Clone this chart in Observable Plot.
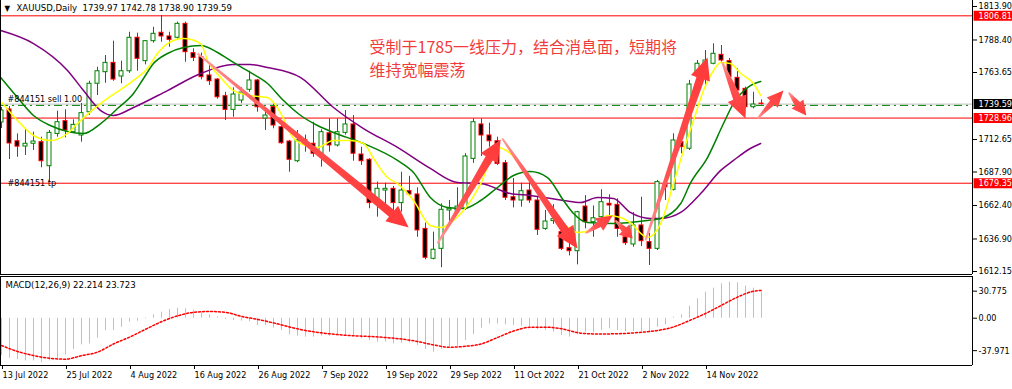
<!DOCTYPE html>
<html><head><meta charset="utf-8">
<script src="https://cdn.jsdelivr.net/npm/d3@7"></script>
<script src="https://cdn.jsdelivr.net/npm/@observablehq/plot@0.6"></script>
<style>
html,body{margin:0;padding:0;background:#fff;}
#chart{width:1012px;height:389px;overflow:hidden;position:relative;}
#chart svg{display:block;}
</style></head><body><div id="chart"></div>
<script>
// ---------- data ----------
const headerTitle = "XAUUSD,Daily";
const headerValues = ["1739.97", "1742.78", "1738.90", "1739.59"];
const opens = [1725.6,1735.5,1711.3,1707.3,1709.4,1710.6,1692.3,1716.9,1726.6,1718.2,1715.7,1733.4,1755.1,1763.9,1771.0,1760.6,1764.6,1790.1,1772.3,1787.5,1793.9,1791.1,1790.1,1800.7,1778.4,1775.3,1761.4,1758.3,1745.6,1735.2,1742.3,1750.5,1757.6,1728.6,1737.3,1722.0,1711.1,1696.1,1712.0,1709.4,1701.8,1717.4,1708.1,1717.7,1724.1,1701.2,1697.2,1664.9,1673.8,1675.1,1664.2,1673.3,1670.8,1644.6,1621.8,1629.4,1658.6,1658.6,1659.9,1697.9,1724.1,1715.7,1711.3,1694.6,1668.7,1666.2,1673.8,1666.2,1644.6,1650.5,1642.1,1629.9,1627.6,1661.6,1649.7,1653.5,1663.7,1662.9,1638.2,1632.7,1647.2,1634.5,1629.4,1678.2,1674.3,1710.6,1705.6,1761.4,1762.9,1770.3,1777.1,1772.3,1759.6,1751.2,1737.2,1739.97];
const highs = [1737.0,1737.8,1716.9,1720.3,1718.2,1714.4,1719.5,1734.2,1735.2,1727.6,1740.1,1757.0,1767.7,1776.6,1787.5,1772.3,1794.3,1793.6,1788.0,1798.1,1807.1,1794.3,1802.0,1802.0,1781.7,1778.4,1769.0,1759.0,1748.6,1752.0,1752.0,1764.6,1758.3,1737.0,1739.8,1726.0,1712.0,1719.5,1716.0,1725.8,1720.0,1728.4,1728.4,1734.7,1730.9,1706.8,1698.0,1680.2,1679.4,1676.9,1687.7,1684.6,1675.9,1649.0,1642.1,1663.6,1666.2,1675.9,1701.8,1728.4,1728.4,1725.1,1714.4,1696.7,1682.9,1679.4,1681.5,1668.7,1658.6,1663.0,1647.2,1638.6,1658.0,1669.9,1662.0,1674.4,1670.5,1667.5,1642.1,1657.0,1668.7,1641.3,1681.5,1684.1,1717.0,1711.9,1757.6,1772.8,1780.4,1785.5,1784.2,1774.3,1766.5,1752.5,1748.6,1742.78];
const lows = [1721.0,1697.4,1699.1,1700.5,1704.3,1691.1,1680.0,1714.4,1713.9,1717.5,1710.6,1731.0,1746.1,1755.5,1757.0,1755.1,1763.0,1764.6,1769.5,1786.0,1786.7,1782.9,1789.0,1771.5,1772.0,1758.1,1753.8,1743.3,1727.1,1729.6,1740.0,1748.6,1733.4,1719.5,1720.8,1709.0,1687.7,1695.0,1703.0,1699.1,1691.6,1703.0,1707.0,1716.0,1696.1,1692.9,1659.9,1653.5,1661.1,1657.3,1657.3,1669.3,1638.2,1621.0,1621.0,1615.0,1648.4,1657.5,1658.6,1694.5,1699.7,1706.8,1692.9,1666.2,1660.6,1661.1,1664.0,1639.6,1643.5,1648.0,1628.1,1624.0,1617.2,1644.6,1638.2,1652.0,1652.3,1638.2,1631.9,1630.6,1631.2,1616.7,1628.1,1666.2,1673.5,1701.8,1704.3,1752.5,1753.0,1769.5,1771.5,1758.0,1746.1,1736.0,1736.0,1738.90];
const closes = [1734.7,1709.6,1707.2,1709.4,1711.1,1696.1,1717.7,1725.8,1719.5,1723.8,1732.7,1755.1,1764.6,1771.0,1758.3,1764.6,1790.1,1774.1,1787.5,1793.1,1791.1,1788.5,1800.7,1779.1,1774.8,1760.1,1757.0,1744.8,1735.2,1746.9,1748.4,1757.6,1737.2,1730.9,1723.3,1709.8,1697.2,1711.9,1709.0,1701.8,1718.2,1708.1,1718.2,1724.1,1701.8,1696.1,1664.2,1675.1,1675.1,1664.2,1673.8,1670.8,1643.4,1622.6,1628.7,1659.1,1659.9,1661.6,1699.7,1725.8,1715.7,1711.3,1694.1,1668.3,1666.2,1673.3,1666.2,1643.9,1650.2,1652.0,1629.4,1627.6,1657.3,1649.7,1652.7,1664.9,1662.4,1644.6,1633.7,1647.2,1635.2,1629.4,1680.2,1676.3,1711.9,1706.8,1754.5,1770.3,1772.8,1777.9,1772.8,1760.1,1749.9,1737.2,1739.3,1739.59];

const dateTickIndex = [0, 8, 16, 24, 32, 40, 48, 56, 64, 72, 80, 88];
const dateTickLabels = ["13 Jul 2022","25 Jul 2022","4 Aug 2022","16 Aug 2022","26 Aug 2022","7 Sep 2022","19 Sep 2022","29 Sep 2022","11 Oct 2022","21 Oct 2022","2 Nov 2022","14 Nov 2022"];
const priceTicks = [1813.90, 1788.40, 1763.65, 1712.65, 1687.90, 1662.40, 1636.90, 1612.15];
const levelLines = [1806.81, 1728.96, 1679.35];
const bidPrice = 1739.59;
const orderPrice = 1738.6;
const orderLabel = "#844151 sell 1.00";
const tpLabel = "#844151 tp";
const noteText = "受制于1785一线压力，结合消息面，短期将\n维持宽幅震荡";

// moving averages: [bar index, price]
const maFast = [[0.1,1740.5],[2,1727.1],[4,1715.7],[6.1,1711.9],[8.25,1717.2],[9.5,1724.8],[12.4,1740.1],[16.5,1757.6],[18.25,1766.7],[19.5,1778.1],[20.75,1785.7],[22.75,1789.5],[24.9,1785.7],[25.75,1772.8],[27.4,1759.8],[29,1749.9],[31.1,1746.1],[33.25,1744.6],[34,1740.8],[35.25,1728.6],[36.1,1717.2],[37.4,1709.6],[39.5,1706.6],[41.5,1711.9],[43.6,1711.9],[45.25,1709.6],[46.5,1698.2],[48.25,1683.7],[49.5,1679.1],[51.5,1666.2],[53.6,1647.2],[54.9,1645.6],[56.5,1651.0],[57.75,1658.6],[59.9,1679.1],[62,1706.6],[63.6,1702.0],[65.25,1689.1],[67,1673.8],[68.6,1660.9],[70.25,1648.7],[72,1641.8],[73.6,1643.4],[75.75,1654.8],[77.4,1653.3],[78.6,1649.4],[80.75,1638.0],[82.4,1648.7],[84,1679.1],[85.25,1704.3],[86.5,1727.1],[87.75,1749.9],[89,1765.2],[89.9,1771.3],[91.1,1770.5],[92.4,1762.9],[94,1755.3],[94.9,1746.1]];
const maMid = [[-0.1,1759.8],[2,1744.6],[4,1730.9],[6.1,1723.3],[8.25,1718.7],[10.25,1717.2],[12.4,1724.8],[14.5,1736.2],[16.5,1747.7],[17.75,1759.1],[19,1770.5],[20.75,1778.1],[22.75,1782.7],[24.9,1784.2],[27,1778.9],[29,1771.3],[31.1,1763.7],[33.25,1755.3],[35.25,1742.3],[37.4,1730.9],[39.5,1723.3],[41.5,1718.0],[45.25,1709.6],[49.5,1696.7],[51.5,1687.5],[53.6,1668.5],[55.75,1660.9],[57.75,1660.1],[59.9,1666.2],[62,1676.1],[64,1685.2],[66.1,1688.3],[68.25,1683.7],[70.25,1666.2],[71.5,1656.3],[73.25,1649.4],[76.5,1648.7],[80.75,1651.0],[82.4,1652.5],[84.9,1663.9],[86.1,1679.2],[88.25,1698.9],[90.25,1724.8],[91.5,1740.1],[93.25,1752.2],[94.9,1756.8]];
const maSlow = [[-0.1,1795.6],[4,1785.7],[8.25,1765.2],[10.25,1749.9],[12.4,1734.7],[14,1730.9],[16.5,1737.0],[20.75,1749.9],[24.9,1762.9],[29,1769.7],[31.1,1769.7],[33.25,1767.5],[37.4,1759.8],[41.5,1737.0],[45.25,1721.0],[49.5,1706.6],[53.6,1690.6],[57,1679.9],[59.9,1679.1],[63.6,1671.5],[66.1,1670.0],[70.25,1666.2],[72.4,1664.7],[74.5,1668.5],[76.5,1667.7],[78.6,1657.1],[81.1,1652.5],[82.4,1652.5],[84.9,1657.1],[87.4,1671.5],[89.9,1689.1],[91.5,1696.7],[93.6,1705.8],[94.9,1709.6]];

// MACD(12,26,9)
const macdMain = [-31.9,-34.2,-35.4,-36.5,-36.5,-37.97,-36.5,-34.5,-31.5,-26.8,-22.8,-22.0,-17.1,-10.8,-10.5,-7.7,-3.4,-2.6,-0.6,2.8,5.1,7.4,8.5,8.0,6.8,4.6,2.8,1.0,-1.0,-2.0,-2.5,-3.0,-6.3,-6.3,-8.5,-10.5,-14.2,-15.4,-16.2,-16.2,-15.4,-15.4,-14.8,-14.8,-15.6,-17.6,-19.1,-20.5,-20.5,-22.0,-21.5,-21.2,-23.3,-26.8,-29.0,-26.8,-24.8,-24.0,-19.1,-14.0,-8.5,-5.0,-5.0,-5.7,-6.3,-6.8,-7.7,-9.7,-10.5,-12.0,-14.8,-16.2,-14.2,-12.0,-12.5,-10.5,-9.1,-10.5,-11.4,-11.4,-11.4,-11.4,-7.7,-5.7,0.9,2.8,10.3,16.5,22.2,25.6,29.3,30.775,30.2,27.4,25.6,22.214];
const macdSignal = [[0,-23.3],[2,-28.4],[4,-31.9],[6,-34.2],[8,-35],[10,-32],[12,-29],[14,-22],[16,-16.2],[18,-9.5],[20,-3],[22,2],[24,5],[26,5.7],[28,5],[30,1.5],[32,-1],[34,-4],[36,-7.5],[38,-10.5],[40,-12.5],[42,-14],[44,-15],[46,-15.6],[48,-16.5],[50,-17.8],[52,-19.9],[54,-22.8],[56,-24.8],[58,-24],[60,-21.9],[62,-16.5],[64,-11],[66,-7.8],[68,-7.7],[70,-9],[72,-12.3],[74,-13.4],[76,-13.4],[78,-13],[80,-12],[82,-10.5],[84,-7.5],[86,-2],[88,4],[90,11],[92,18],[94,23],[95,23.723]];
const macdTitle = "MACD(12,26,9) 22.214 23.723";
const macdAxisTicks = [30.775, 0, -37.971];

// hand-drawn arrows: bar index / price
const bigArrows = [
  {x1:24.5,y1:1778.1,x2:50.9,y2:1645.6},
  {x1:54.5,y1:1633.5,x2:62.4,y2:1712.6},
  {x1:62.6,y1:1713.4,x2:72.0,y2:1629.6},
  {x1:80.5,y1:1635.8,x2:88.25,y2:1775.1},
  {x1:90.1,y1:1771.3,x2:93.0,y2:1728.6}
];
const smallArrows = [
  {x1:73.0,y1:1641.1,x2:76.4,y2:1654.8},
  {x1:76.75,y1:1651.0,x2:78.9,y2:1637.3},
  {x1:94.5,y1:1728.6,x2:97.75,y2:1750.0},
  {x1:98.4,y1:1748.4,x2:100.6,y2:1730.9}
];

// ---------- build ----------
const FONT = "'DejaVu Sans Condensed','Liberation Sans',sans-serif";
const X_DOMAIN = [-0.125, 121.375];
const Y_DOMAIN = [1609.86, 1818.47];
const M_DOMAIN = [-40.4, 35.6];
const GREEN = "#008000", RED = "#ff0000";
const PLOT_W = 972, PLOT_H = 274;
const KX = PLOT_W / (X_DOMAIN[1] - X_DOMAIN[0]);
const KY = PLOT_H / (Y_DOMAIN[1] - Y_DOMAIN[0]);

const candles = closes.map((c, i) => ({i, o: opens[i], h: highs[i], l: lows[i], c, up: c >= opens[i]}));
const priceBoxes = [
  {v: levelLines[0], bg: RED},
  {v: bidPrice, bg: "#000000"},
  {v: levelLines[1], bg: RED},
  {v: levelLines[2], bg: RED}
];

// tapered filled arrow shape for Plot.vector (points up before rotation)
const arrowShape = {
  draw(ctx, l, r) {
    const hl = Math.min(r * 2.2, l * 0.5), s1 = r * 0.42, s0 = r * 0.1;
    ctx.moveTo(-s0, 0);
    ctx.lineTo(-s1, hl - l);
    ctx.lineTo(-r, hl - l);
    ctx.lineTo(0, -l);
    ctx.lineTo(r, hl - l);
    ctx.lineTo(s1, hl - l);
    ctx.lineTo(s0, 0);
    ctx.closePath();
  }
};
const geom = (a) => {
  const dx = (a.x2 - a.x1) * KX, dy = -(a.y2 - a.y1) * KY;
  return {...a, len: Math.hypot(dx, dy), rot: Math.atan2(dx, -dy) * 180 / Math.PI};
};

const main = Plot.plot({
  width: 1012, height: 276,
  marginLeft: 0, marginRight: 40, marginTop: 0, marginBottom: 2,
  x: {domain: X_DOMAIN, axis: null},
  y: {domain: Y_DOMAIN, axis: null},
  length: {type: "linear", domain: [0, 1000], range: [0, 1000]},
  style: {fontFamily: FONT, fontSize: "9px", color: "#000", background: "transparent", overflow: "visible"},
  marks: [
    Plot.ruleY([bidPrice], {stroke: "#c0c0c0"}),
    Plot.ruleY([orderPrice], {stroke: GREEN, strokeDasharray: "8,4,2,4"}),
    Plot.ruleY(levelLines, {stroke: RED}),
    Plot.ruleX(candles, {x: "i", y1: "l", y2: "h", stroke: d => d.up ? GREEN : RED}),
    Plot.rect(candles, {x1: d => d.i - 0.25, x2: d => d.i + 0.25, y1: "o", y2: "c",
      fill: d => d.up ? "#ffffff" : "#000000", stroke: d => d.up ? GREEN : RED}),
    Plot.line(maSlow, {x: d => d[0], y: d => d[1], stroke: "#800080", curve: "monotone-x"}),
    Plot.line(maMid, {x: d => d[0], y: d => d[1], stroke: GREEN, curve: "monotone-x"}),
    Plot.line(maFast, {x: d => d[0], y: d => d[1], stroke: "#ffff00", curve: "monotone-x"}),
    Plot.text([orderLabel], {x: () => X_DOMAIN[0], y: () => orderPrice, dx: 7, dy: -6, textAnchor: "start", fill: "#000"}),
    Plot.text([tpLabel], {x: () => X_DOMAIN[0], y: () => levelLines[2], dx: 7, dy: 0, textAnchor: "start", fill: "#000"}),
    Plot.vector(bigArrows.map(geom), {x: "x1", y: "y1", length: "len", rotate: "rot", anchor: "start",
      shape: arrowShape, r: 10, fill: "url(#arrowGrad)", stroke: "none"}),
    Plot.vector(smallArrows.map(geom), {x: "x1", y: "y1", length: "len", rotate: "rot", anchor: "start",
      shape: arrowShape, r: 7.5, fill: "url(#arrowGrad)", stroke: "none"}),
    Plot.text([noteText], {frameAnchor: "top-left", dx: 369, dy: 37, textAnchor: "start", lineAnchor: "top",
      fill: "#f23c3c", fontSize: 16, lineHeight: 1.4, fontFamily: "'Noto Sans CJK SC',sans-serif"}),
    Plot.text(["▼"], {frameAnchor: "top-left", dx: 4, dy: 5, lineAnchor: "top", textAnchor: "start", fontSize: 8, fill: "#000"}),
    Plot.text([headerTitle + "  " + headerValues.join(" ")], {frameAnchor: "top-left", dx: 16, dy: 4, lineAnchor: "top", textAnchor: "start", fontSize: 9.5, fill: "#000"}),
    Plot.axisY(priceTicks, {anchor: "right", label: null, tickSize: 4, tickPadding: 2, tickFormat: d => d.toFixed(2), fill: "#000"}),
    Plot.ruleY(priceBoxes, {y: "v", x1: () => X_DOMAIN[1] + 0.2, x2: () => X_DOMAIN[1] + 5, stroke: "bg", strokeWidth: 10}),
    Plot.text(priceBoxes, {x: () => X_DOMAIN[1], y: "v", dx: 6, textAnchor: "start", fill: "#fff", text: d => d.v.toFixed(2)}),
    Plot.ruleX([X_DOMAIN[0], X_DOMAIN[1]], {stroke: "#000"}),
    Plot.ruleY([Y_DOMAIN[0]], {stroke: "#000"})
  ]
});

// gradient for the hand-drawn arrows: lighter tail, solid red head
const defs = d3.select(main).insert("defs", ":first-child");
const grad = defs.append("linearGradient").attr("id", "arrowGrad")
  .attr("x1", 0).attr("y1", 1).attr("x2", 0).attr("y2", 0);
grad.append("stop").attr("offset", "0%").attr("stop-color", "#ff9c9c");
grad.append("stop").attr("offset", "35%").attr("stop-color", "#ff5252");
grad.append("stop").attr("offset", "100%").attr("stop-color", "#ff3838");

const macdRows = macdMain.map((v, i) => ({i, v}));
const macd = Plot.plot({
  width: 1012, height: 113,
  marginLeft: 0, marginRight: 40, marginTop: 0, marginBottom: 24,
  x: {domain: X_DOMAIN, axis: null},
  y: {domain: M_DOMAIN, axis: null},
  style: {fontFamily: FONT, fontSize: "9px", color: "#000", background: "transparent", overflow: "visible"},
  marks: [
    Plot.ruleX(macdRows, {x: "i", y1: () => 0, y2: "v", stroke: "#c0c0c0"}),
    Plot.line(macdSignal, {x: d => d[0], y: d => d[1], stroke: RED, strokeDasharray: "2,2", curve: "monotone-x"}),
    Plot.text([macdTitle], {frameAnchor: "top-left", dx: 5, dy: 5, lineAnchor: "top", textAnchor: "start", fontSize: 9.5, fill: "#000"}),
    Plot.axisY([macdAxisTicks[0]], {anchor: "right", label: null, tickSize: 4, tickPadding: 2, tickFormat: d => d.toFixed(3), dy: 9}),
    Plot.axisY([macdAxisTicks[1]], {anchor: "right", label: null, tickSize: 4, tickPadding: 2, tickFormat: d => d.toFixed(2)}),
    Plot.axisY([macdAxisTicks[2]], {anchor: "right", label: null, tickSize: 4, tickPadding: 2, tickFormat: d => d.toFixed(3), dy: -12}),
    Plot.axisX(dateTickIndex, {anchor: "bottom", label: null, tickSize: 4, tickPadding: 2, textAnchor: "start", dx: 1,
      tickFormat: d => dateTickLabels[dateTickIndex.indexOf(d)]}),
    Plot.ruleX([X_DOMAIN[0], X_DOMAIN[1]], {stroke: "#000"}),
    Plot.ruleY([M_DOMAIN[0], M_DOMAIN[1]], {stroke: "#000"})
  ]
});

const root = document.getElementById("chart");
root.appendChild(main);
root.appendChild(macd);
</script>
</body></html>
